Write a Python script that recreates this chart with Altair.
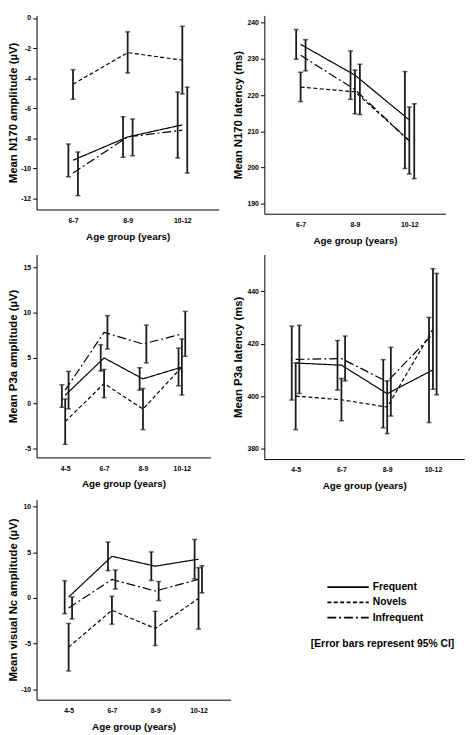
import altair as alt
import pandas as pd

FONT = "Liberation Sans"
series = ["Frequent", "Novels", "Infrequent"]
ages3 = ["6-7", "8-9", "10-12"]
ages4 = ["4-5", "6-7", "8-9", "10-12"]
dash_range = [[1, 0], [4, 2.5], [9, 3, 2, 3]]

# N170 amplitude (µV)
n170amp_mean = {"Frequent": [-9.45, -7.9, -7.1], "Novels": [-4.4, -2.3, -2.8], "Infrequent": [-10.3, -7.9, -7.45]}
n170amp_lo = {"Frequent": [-10.55, -9.25, -9.3], "Novels": [-5.4, -3.65, -5.05], "Infrequent": [-11.8, -9.15, -10.3]}
n170amp_hi = {"Frequent": [-8.37, -6.56, -4.92], "Novels": [-3.43, -0.92, -0.55], "Infrequent": [-8.9, -6.71, -4.59]}

# N170 latency (ms)
n170lat_mean = {"Frequent": [234.0, 225.5, 213.1], "Novels": [222.2, 220.9, 207.4], "Infrequent": [231.0, 221.5, 207.3]}
n170lat_lo = {"Frequent": [229.9, 218.8, 199.7], "Novels": [218.2, 214.8, 198.2], "Infrequent": [226.7, 214.6, 196.9]}
n170lat_hi = {"Frequent": [238.1, 232.2, 226.5], "Novels": [226.3, 226.9, 216.7], "Infrequent": [235.3, 228.5, 217.6]}

# P3a amplitude (µV)
p3amp_mean = {"Frequent": [0.9, 5.0, 2.7, 4.0], "Novels": [-2.0, 2.18, -0.62, 4.0], "Infrequent": [1.46, 7.82, 6.53, 7.65]}
p3amp_lo = {"Frequent": [-0.42, 3.56, 1.46, 1.93], "Novels": [-4.5, 0.63, -2.88, 0.92], "Infrequent": [-0.6, 5.98, 4.46, 5.18]}
p3amp_hi = {"Frequent": [2.04, 6.44, 3.92, 6.08], "Novels": [0.48, 3.73, 1.64, 7.09], "Infrequent": [3.52, 9.66, 8.61, 10.12]}

# P3a latency (ms)
p3lat_mean = {"Frequent": [412.6, 411.8, 400.9, 410.0], "Novels": [400.0, 398.6, 395.8, 425.6], "Infrequent": [414.0, 414.3, 405.5, 423.7]}
p3lat_lo = {"Frequent": [398.5, 402.3, 387.9, 389.9], "Novels": [387.2, 390.6, 385.7, 402.6], "Infrequent": [401.0, 405.8, 392.4, 400.5]}
p3lat_hi = {"Frequent": [426.7, 421.2, 413.9, 430.0], "Novels": [412.7, 406.7, 405.8, 448.6], "Infrequent": [427.0, 422.9, 418.6, 446.8]}

# Visual Nc amplitude (µV)
nc_mean = {"Frequent": [0.1, 4.56, 3.48, 4.25], "Novels": [-5.4, -1.35, -3.34, -0.05], "Infrequent": [-1.1, 2.02, 0.76, 2.04]}
nc_lo = {"Frequent": [-1.72, 2.99, 1.91, 2.09], "Novels": [-8.0, -2.87, -5.21, -3.41], "Infrequent": [-2.3, 0.98, -0.28, 0.55]}
nc_hi = {"Frequent": [1.88, 6.12, 5.04, 6.41], "Novels": [-2.8, 0.18, -1.47, 3.31], "Infrequent": [0.1, 3.06, 1.8, 3.53]}

note_text = "[Error bars represent 95% CI]"


def frame(ages, mean, lo, hi):
    rows = []
    for s in series:
        for i, a in enumerate(ages):
            rows.append({"series": s, "age": a, "mean": mean[s][i], "lo": lo[s][i], "hi": hi[s][i]})
    return pd.DataFrame(rows)


def panel(ages, mean, lo, hi, ytitle, domain, ticks, width, height, pad, dodge, title_x):
    df = frame(ages, mean, lo, hi)
    xenc = alt.X("age:N", sort=ages,
                 scale=alt.Scale(type="point", padding=pad, domain=ages),
                 axis=alt.Axis(title="Age group (years)", ticks=False, labelPadding=7,
                               labelAngle=0, titleY=27, titleBaseline="middle"))
    yscale = alt.Scale(domain=domain, nice=False, zero=False)
    yaxis = alt.Axis(title=ytitle, values=ticks, tickSize=4, labelPadding=2,
                     titleX=title_x, titleBaseline="middle",
                     labelExpr="'' + datum.value")
    base = alt.Chart(df)
    line = base.mark_line(color="black", strokeWidth=1.2).encode(
        x=xenc,
        y=alt.Y("mean:Q", scale=yscale, axis=yaxis),
        strokeDash=alt.StrokeDash("series:N", scale=alt.Scale(domain=series, range=dash_range), legend=None),
    )
    layers = [line]
    for s, d in zip(series, dodge):
        sub = base.transform_filter(alt.datum.series == s)
        layers.append(sub.mark_rule(color="#1a1a1a", strokeWidth=1.8, xOffset=d).encode(
            x=xenc, y=alt.Y("lo:Q", scale=yscale, axis=yaxis), y2="hi:Q"))
        for fld in ["lo", "hi"]:
            layers.append(sub.mark_tick(color="#1a1a1a", orient="horizontal", size=5,
                                        thickness=1.5, xOffset=d).encode(
                x=xenc, y=alt.Y(f"{fld}:Q", scale=yscale, axis=yaxis)))
    return alt.layer(*layers).properties(width=width, height=height)


p1 = panel(ages3, n170amp_mean, n170amp_lo, n170amp_hi, "Mean N170 amplitude (µV)",
           [-12.72, 0.17], [-12, -10, -8, -6, -4, -2, 0], 185, 197, 0.667, [-4.7, 0, 5], -23)
p2 = panel(ages3, n170lat_mean, n170lat_lo, n170lat_hi, "Mean N170 latency (ms)",
           [187.2, 242.0], [190, 200, 210, 220, 230, 240], 184, 201.3, 0.667, [-4.5, 0, 5], -26)
p3 = panel(ages4, p3amp_mean, p3amp_lo, p3amp_hi, "Mean P3a amplitude (µV)",
           [-5.94, 16.38], [-5, 0, 5, 10, 15], 176.6, 206, 0.736, [-3.4, 0, 3.4], -23)
p4 = panel(ages4, p3lat_mean, p3lat_lo, p3lat_hi, "Mean P3a latency (ms)",
           [375.98, 454.0], [380, 400, 420, 440], 203, 207.7, 0.685, [-4, 0, 3.7], -26)
p5 = panel(ages4, nc_mean, nc_lo, nc_hi, "Mean visual Nc amplitude (µV)",
           [-11.15, 10.79], [-10, -5, 0, 5, 10], 197, 203.3, 0.74, [-4, 0, 3.5], -23)

leg_df = pd.DataFrame({"series": series})
ly = alt.Y("series:N", sort=series,
           scale=alt.Scale(type="point", domain=series, range=[89, 120], padding=0), axis=None)
leg_lines = alt.Chart(leg_df).mark_rule(color="black", strokeWidth=1.6).encode(
    x=alt.value(64), x2=alt.value(106), y=ly,
    strokeDash=alt.StrokeDash("series:N", scale=alt.Scale(domain=series, range=dash_range), legend=None))
leg_text = alt.Chart(leg_df).mark_text(align="left", baseline="middle", font=FONT,
                                       fontWeight="bold", fontSize=10.5, color="black").encode(
    x=alt.value(110), y=ly, text="series:N")
note = alt.Chart(pd.DataFrame({"note": [note_text]})).mark_text(
    align="center", baseline="middle", font=FONT, fontWeight="bold", fontSize=10.5, color="black").encode(
    x=alt.value(120), y=alt.value(147), text="note:N")
p6 = alt.layer(leg_lines, leg_text, note).properties(width=200, height=203.3)

chart = alt.concat(p1, p2, p3, p4, p5, p6, columns=2,
                   spacing={"row": 40.7, "column": 34.25},
                   bounds="flush", align="each").properties(
    padding={"left": 0, "top": 0, "right": 2, "bottom": 0},
    background="white",
).configure_view(stroke=None).configure_axis(
    labelFont=FONT, titleFont=FONT, labelFontSize=7, labelFontWeight="bold",
    titleFontWeight="bold", domainColor="black", tickColor="black",
    labelColor="black", titleColor="black", grid=False, domainWidth=1,
).configure_axisX(titleFontSize=10).configure_axisY(titleFontSize=11.5)

chart.save("out.html", embed_options={"renderer": "svg", "actions": False})
